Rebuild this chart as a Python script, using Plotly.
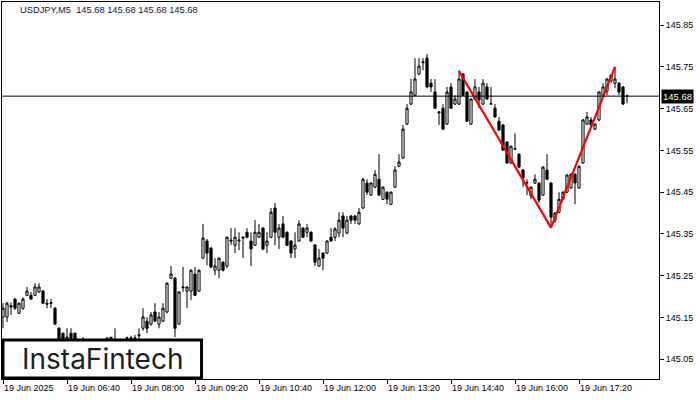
import plotly.graph_objects as go

# ---- data (USDJPY M5, bars from 19 Jun 05:20 to 18:20) ----
opens = [145.151,145.151,145.178,145.194,145.160,145.172,145.203,145.203,145.203,145.211,
145.213,145.184,145.185,145.172,145.124,145.112,145.088,145.112,145.112,145.088,
145.080,145.086,145.078,145.084,145.076,145.082,145.090,145.094,145.096,145.090,
145.086,145.100,145.101,145.098,145.106,145.124,145.141,145.134,145.163,145.134,
145.141,145.163,145.244,145.244,145.134,145.221,145.213,145.213,145.254,145.213,
145.292,145.333,145.316,145.263,145.263,145.282,145.273,145.335,145.323,145.333,
145.340,145.354,145.333,145.323,145.342,145.364,145.323,145.342,145.412,145.342,
145.374,145.354,145.333,145.314,145.333,145.364,145.354,145.354,145.323,145.273,
145.304,145.304,145.342,145.342,145.352,145.393,145.352,145.393,145.393,145.374,
145.412,145.472,145.443,145.462,145.481,145.433,145.450,145.421,145.462,145.512,
145.532,145.613,145.661,145.682,145.733,145.760,145.771,145.711,145.690,145.640,
145.651,145.613,145.702,145.661,145.661,145.733,145.690,145.613,145.673,145.690,
145.661,145.702,145.661,145.651,145.620,145.611,145.570,145.520,145.553,145.541,
145.503,145.472,145.441,145.472,145.472,145.443,145.503,145.472,145.383,145.402,
145.433,145.450,145.460,145.493,145.460,145.520,145.613,145.623,145.601,145.623,
145.682,145.692,145.716,145.711,145.711,145.702,145.680]

highs = [145.184,145.187,145.186,145.196,145.186,145.198,145.223,145.211,145.232,145.232,
145.216,145.194,145.194,145.175,145.127,145.114,145.124,145.124,145.114,145.092,
145.103,145.092,145.090,145.090,145.088,145.094,145.103,145.104,145.124,145.094,
145.096,145.104,145.106,145.108,145.124,145.172,145.151,145.163,145.184,145.163,
145.184,145.234,145.273,145.247,145.213,145.271,145.225,145.265,145.271,145.265,
145.374,145.338,145.318,145.292,145.294,145.285,145.344,145.364,145.364,145.354,
145.344,145.364,145.354,145.383,145.374,145.366,145.354,145.412,145.424,145.374,
145.393,145.356,145.335,145.354,145.383,145.366,145.374,145.356,145.326,145.314,
145.306,145.335,145.364,145.366,145.402,145.402,145.393,145.395,145.395,145.412,
145.484,145.481,145.474,145.503,145.541,145.464,145.452,145.452,145.512,145.541,
145.611,145.661,145.721,145.771,145.771,145.771,145.781,145.721,145.721,145.644,
145.661,145.702,145.711,145.682,145.742,145.735,145.692,145.675,145.721,145.702,
145.721,145.711,145.702,145.661,145.630,145.613,145.572,145.562,145.591,145.543,
145.505,145.481,145.464,145.493,145.474,145.512,145.541,145.474,145.402,145.450,
145.452,145.493,145.495,145.495,145.514,145.625,145.642,145.630,145.615,145.692,
145.711,145.723,145.733,145.750,145.713,145.704,145.684]

lows = [145.124,145.139,145.156,145.168,145.158,145.168,145.201,145.192,145.201,145.209,
145.182,145.172,145.172,145.132,145.085,145.080,145.082,145.090,145.080,145.070,
145.072,145.070,145.066,145.064,145.068,145.074,145.084,145.088,145.082,145.076,
145.078,145.088,145.090,145.090,145.096,145.118,145.112,145.130,145.139,145.124,
145.139,145.160,145.242,145.103,145.132,145.211,145.172,145.192,145.201,145.211,
145.290,145.275,145.268,145.251,145.244,145.260,145.268,145.323,145.304,145.311,
145.292,145.340,145.273,145.321,145.340,145.311,145.304,145.340,145.323,145.314,
145.340,145.321,145.292,145.292,145.331,145.340,145.342,145.331,145.273,145.271,
145.263,145.302,145.331,145.333,145.342,145.342,145.350,145.374,145.374,145.372,
145.410,145.443,145.441,145.460,145.441,145.431,145.421,145.419,145.460,145.510,
145.530,145.611,145.659,145.680,145.730,145.742,145.699,145.690,145.649,145.611,
145.599,145.611,145.649,145.659,145.659,145.680,145.618,145.611,145.671,145.651,
145.659,145.671,145.659,145.628,145.597,145.549,145.518,145.518,145.551,145.508,
145.462,145.443,145.433,145.470,145.424,145.441,145.479,145.366,145.376,145.400,
145.431,145.448,145.458,145.421,145.458,145.518,145.611,145.609,145.599,145.620,
145.680,145.682,145.713,145.699,145.682,145.659,145.663]

closes = [145.172,145.184,145.175,145.172,145.184,145.194,145.213,145.194,145.223,145.223,
145.184,145.182,145.184,145.134,145.096,145.090,145.103,145.100,145.088,145.080,
145.086,145.078,145.084,145.076,145.082,145.090,145.100,145.102,145.090,145.086,
145.092,145.101,145.098,145.101,145.108,145.151,145.124,145.156,145.141,145.151,
145.172,145.232,145.254,145.124,145.211,145.223,145.223,145.263,145.203,145.263,
145.340,145.304,145.271,145.273,145.292,145.263,145.342,145.333,145.342,145.335,
145.342,145.342,145.314,145.354,145.354,145.314,145.333,145.402,145.354,145.364,
145.342,145.323,145.304,145.323,145.374,145.342,145.364,145.333,145.282,145.292,
145.292,145.333,145.333,145.362,145.383,145.364,145.383,145.383,145.383,145.402,
145.481,145.450,145.472,145.493,145.443,145.462,145.433,145.450,145.503,145.522,
145.601,145.651,145.690,145.721,145.752,145.762,145.702,145.702,145.651,145.642,
145.601,145.690,145.651,145.673,145.721,145.682,145.620,145.673,145.702,145.671,
145.711,145.673,145.662,145.630,145.599,145.551,145.520,145.560,145.554,145.510,
145.484,145.473,145.462,145.481,145.431,145.510,145.481,145.390,145.400,145.433,
145.450,145.491,145.493,145.472,145.512,145.623,145.630,145.611,145.613,145.690,
145.702,145.721,145.730,145.721,145.690,145.661,145.680]

bar_index = list(range(len(closes)))

tick_bars = [0, 16, 32, 48, 64, 80, 96, 112, 128, 144]
tick_labels = ["19 Jun 2025", "19 Jun 06:40", "19 Jun 08:00", "19 Jun 09:20",
               "19 Jun 10:40", "19 Jun 12:00", "19 Jun 13:20", "19 Jun 14:40",
               "19 Jun 16:00", "19 Jun 17:20"]

price_ticks = [145.05, 145.15, 145.25, 145.35, 145.45, 145.55, 145.65, 145.75, 145.85]

pattern_bars = [114, 137, 153]
pattern_prices = [145.740, 145.365, 145.750]

last_price = 145.68
header_text = "USDJPY,M5\u00a0 145.68 145.68 145.68 145.68"
logo_text = "InstaFintech"

FONT = "Liberation Sans"

fig = go.Figure()
fig.add_trace(go.Candlestick(
    x=bar_index, open=opens, high=highs, low=lows, close=closes,
    increasing=dict(fillcolor="white", line=dict(color="black", width=1)),
    decreasing=dict(fillcolor="black", line=dict(color="black", width=1)),
    whiskerwidth=0, showlegend=False, hoverinfo="skip",
))
fig.add_trace(go.Scatter(
    x=pattern_bars, y=pattern_prices, mode="lines",
    line=dict(color="#ff0000", width=2.2), showlegend=False, hoverinfo="skip",
))

fig.add_shape(type="line", xref="paper", x0=0, x1=1, yref="y",
              y0=last_price, y1=last_price, line=dict(color="black", width=1))

# logo box
fig.add_shape(type="rect", xref="paper", yref="paper",
              x0=0.0015, x1=0.3037, y0=0.0027, y1=0.1034,
              fillcolor="white", line=dict(color="black", width=3), layer="above")
fig.add_annotation(text=logo_text, xref="paper", yref="paper", x=0.1526, y=0.053,
                   showarrow=False, xanchor="center", yanchor="middle",
                   font=dict(family="Inter", size=28, color="#1e1e1e"))

fig.add_annotation(text=header_text, xref="paper", yref="paper", x=0.024, y=0.997,
                   showarrow=False, xanchor="left", yanchor="top",
                   font=dict(family=FONT, size=9.3, color="#10103a"))

fig.add_annotation(text=f"{last_price:.2f}", xref="paper", yref="y", x=1, y=last_price,
                   xshift=2, showarrow=False, xanchor="left", yanchor="middle",
                   bgcolor="black", borderpad=1,
                   font=dict(family=FONT, size=9.5, color="white"))

fig.update_layout(
    width=700, height=400,
    margin=dict(l=2, r=41, t=2, b=21),
    paper_bgcolor="white", plot_bgcolor="white",
    boxgap=0.22, boxmode="overlay",
    showlegend=False,
    xaxis=dict(range=[-0.25, 164], tickvals=tick_bars, ticktext=tick_labels,
               ticks="outside", ticklen=4, tickcolor="black", showgrid=False,
               zeroline=False, showline=True, linecolor="black", linewidth=1,
               mirror=True, rangeslider=dict(visible=False),
               ticklabelposition="outside right",
               tickfont=dict(family=FONT, size=9, color="black")),
    yaxis=dict(range=[145.0025, 145.9055], side="right", tickvals=price_ticks,
               ticktext=[f"{v:.2f}" for v in price_ticks],
               ticks="outside", ticklen=4, tickcolor="black", showgrid=False,
               zeroline=False, showline=True, linecolor="black", linewidth=1,
               mirror=True,
               tickfont=dict(family=FONT, size=9, color="black")),
)

fig.write_html("out.html", config={"displayModeBar": False},
               post_script="document.body.style.margin='0';document.body.style.overflow='hidden';")
